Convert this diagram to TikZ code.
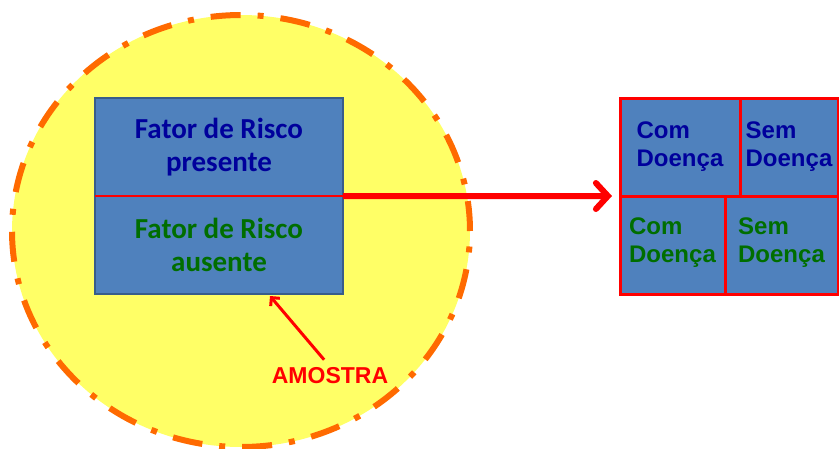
\documentclass[tikz,border=0pt]{standalone}
\usepackage{fontspec}
\setmainfont{Liberation Sans}
\newfontfamily\boxfont{Carlito}
\usetikzlibrary{arrows.meta}
\definecolor{popyellow}{HTML}{FFFF66}
\definecolor{popline}{HTML}{FF6A00}
\definecolor{boxblue}{HTML}{4F81BD}
\definecolor{boxedge}{HTML}{385D8A}
\definecolor{txtblue}{HTML}{00009C}
\definecolor{txtgreen}{HTML}{006E00}
\tikzset{
  factor/.style = {fill=boxblue, minimum width=248pt, minimum height=98pt,
    align=center, font=\boxfont\fontsize{29}{33}\selectfont\bfseries},
  cell/.style = {fill=boxblue, draw=red, line width=3pt, align=left,
    font=\fontsize{24}{28}\selectfont\bfseries},
}
\begin{document}
\begin{tikzpicture}[x=1pt, y=-1pt]
    \useasboundingbox (0,0) rectangle (839,448);
    \clip (0,0) rectangle (839,448);
    % populacao
    \draw[fill=popyellow, draw=popline, line width=6pt,
      dash pattern=on 30pt off 17pt on 6pt off 17pt]
      (241,231) ellipse [x radius=229pt, y radius=216pt];
    % amostra
    \node[factor, text=txtblue] (pres) at (219,147) {Fator de Risco\\presente};
    \node[factor, text=txtgreen] (aus) at (219,245) {Fator de Risco\\ausente};
    \draw[boxedge, line width=1.5pt] (pres.north west) rectangle (aus.south east);
    \draw[red, line width=2pt] (pres.south west) -- (pres.south east);
    % tabela
    \node[cell, text=txtblue, minimum width=120pt, minimum height=98pt] (cd1) at (680,147) {Com\\Doença};
    \node[cell, text=txtblue, minimum width=98pt, minimum height=98pt] (sd1) at (789,147) {Sem\\Doença};
    \node[cell, text=txtgreen, minimum width=105pt, minimum height=98pt, text depth=10pt] (cd2) at (672.5,245) {Com\\Doença};
    \node[cell, text=txtgreen, minimum width=113pt, minimum height=98pt, text depth=10pt] (sd2) at (781.5,245) {Sem\\Doença};
    \coordinate (tip) at (612,196);
    \draw[red, line width=6pt, -{Straight Barb[length=12pt, width=26pt, line cap=round]}]
      (pres.south east) -- (tip);
    \node[text=red, font=\fontsize{23}{28}\selectfont\bfseries] (amostra) at (330,376) {AMOSTRA};
    \coordinate (pick) at (270,296);
    \draw[red, line width=3pt, shorten <=6pt, -{Straight Barb[length=6pt, width=12pt]}]
      (amostra.north) ++(-2,0) -- (pick);
\end{tikzpicture}
\end{document}
